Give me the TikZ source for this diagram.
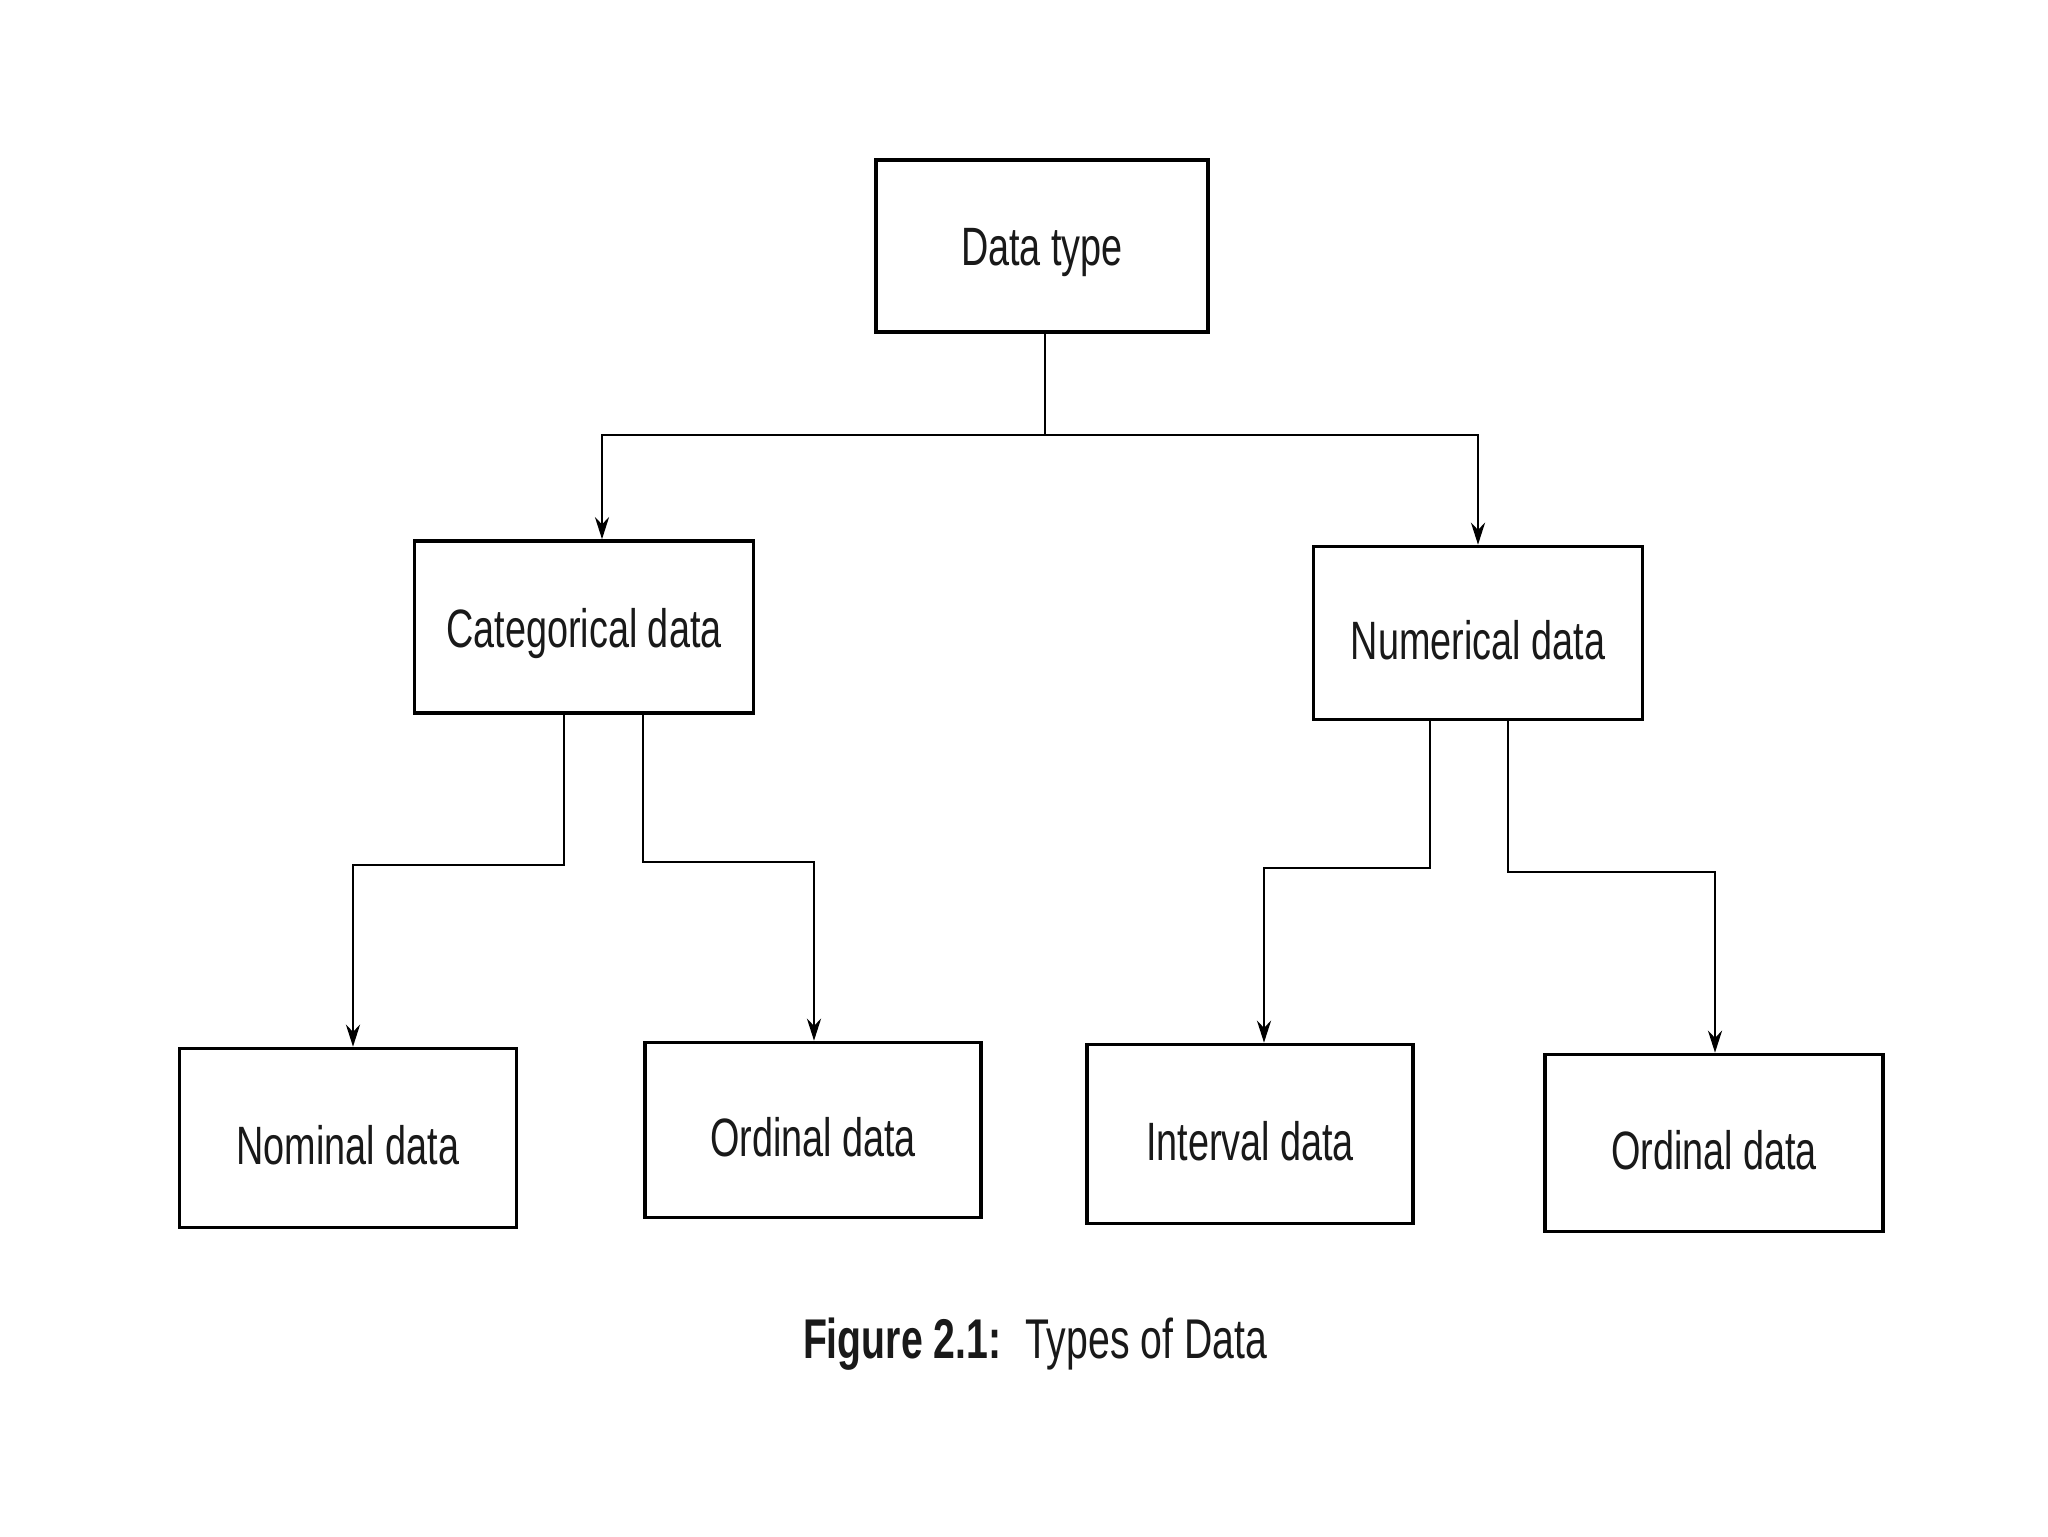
\documentclass[tikz,border=0pt]{standalone}
\usepackage{fontspec}
\setmainfont[FakeStretch=0.70]{Liberation Sans}
\usetikzlibrary{arrows.meta,calc}
\begin{document}
\begin{tikzpicture}[x=0.5pt,y=-0.5pt,
  box/.style={draw=black,line width=1.8pt,minimum width=#1*0.5pt,inner sep=0pt},
  txt/.style={label={[font=\fontsize{27}{32}\selectfont,text=black!90,yshift=-3.5pt]center:#1}},
  ln/.style={line width=1.4pt},
  arr/.style={ln,-{Stealth[length=11pt,width=7pt]}}]
\useasboundingbox[fill=white] (0,0) rectangle (2048,1536);
\node[box=332,minimum height=86pt,txt={Data type}] (dt) at (1042,246) {};
\node[box=339,minimum height=86pt,txt={Categorical data}] (cat) at (584,627) {};
\node[box=329,minimum height=86.5pt,txt={Numerical data}] (num) at (1478,633) {};
\node[box=337,minimum height=89.5pt,txt={Nominal data}] (nom) at (348,1138) {};
\node[box=336,minimum height=87.5pt,txt={Ordinal data}] (ord1) at (813,1130) {};
\node[box=326,minimum height=89.5pt,txt={Interval data}] (int) at (1250,1134) {};
\node[box=338,minimum height=88.5pt,txt={Ordinal data}] (ord2) at (1714,1143) {};
\coordinate (split) at (1045,435);
\coordinate (sl) at (602,435);
\coordinate (sr) at (1478,435);
\draw[ln] (dt.south -| split) -- (split);
\draw[arr] (split) -- (sl) -- (cat.north -| sl);
\draw[arr] (split) -- (sr) -- (num.north -| sr);
\coordinate (a1) at (564,865); \coordinate (a2) at (353,865);
\coordinate (b1) at (643,862); \coordinate (b2) at (814,862);
\coordinate (c1) at (1430,868); \coordinate (c2) at (1264,868);
\coordinate (d1) at (1508,872); \coordinate (d2) at (1715,872);
\draw[arr] (cat.south -| a1) -- (a1) -- (a2) -- (nom.north -| a2);
\draw[arr] (cat.south -| b1) -- (b1) -- (b2) -- (ord1.north -| b2);
\draw[arr] (num.south -| c1) -- (c1) -- (c2) -- (int.north -| c2);
\draw[arr] (num.south -| d1) -- (d1) -- (d2) -- (ord2.north -| d2);
\node[font=\fontsize{28}{33}\selectfont,anchor=base,text=black!90] (cap) at (1035,1358) {\textbf{Figure 2.1:}\, Types of Data};
\end{tikzpicture}
\end{document}
